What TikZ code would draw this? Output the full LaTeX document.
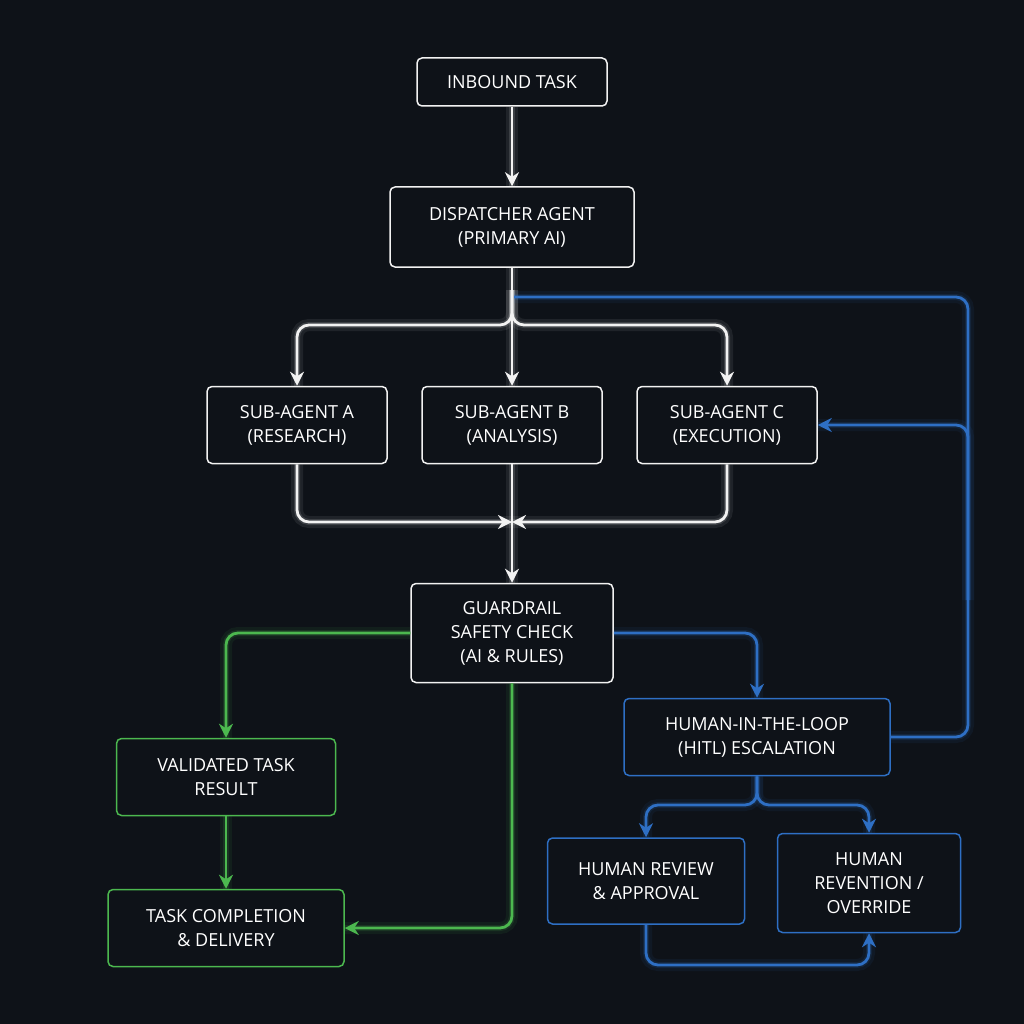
\documentclass[tikz,border=0pt]{standalone}
\usepackage{fontspec}
\setmainfont{Open Sans}
\usetikzlibrary{arrows.meta}
\definecolor{bg}{HTML}{0E1218}
\definecolor{wl}{HTML}{F2F2F2}
\definecolor{gl}{HTML}{4CB84F}
\definecolor{bl}{HTML}{2E6FC4}
\begin{document}
\begin{tikzpicture}[x=1pt,y=-1pt,
  box/.style={draw=#1, line width=1.5pt, rounded corners=5pt, fill=bg, text=white, align=center, font=\fontsize{18}{24}\selectfont, inner sep=0pt},
  glow/.style={preaction={draw=#1, line width=12pt, draw opacity=0.08, arrows=-},
     preaction={draw=#1, line width=6pt, draw opacity=0.14, arrows=-}},
  ln/.style={draw=#1, line width=2.8pt, rounded corners=12pt, -{Stealth[length=14pt,width=14pt]}, glow=#1},
  pl/.style={draw=#1, line width=2.8pt, rounded corners=12pt, glow=#1}]
\fill[bg] (0,0) rectangle (1024,1024);
\useasboundingbox (0,0) rectangle (1024,1024);
% nodes
\node[box=wl, minimum width=190pt, minimum height=48pt] (in) at (512,82) {INBOUND TASK};
\node[box=wl, minimum width=244pt, minimum height=80pt] (disp) at (512,227) {DISPATCHER AGENT\\(PRIMARY AI)};
\node[box=wl, minimum width=180pt, minimum height=77pt] (a) at (297,425) {SUB-AGENT A\\(RESEARCH)};
\node[box=wl, minimum width=180pt, minimum height=77pt] (b) at (512,425) {SUB-AGENT B\\(ANALYSIS)};
\node[box=wl, minimum width=180pt, minimum height=77pt] (c) at (727,425) {SUB-AGENT C\\(EXECUTION)};
\node[box=wl, minimum width=202pt, minimum height=99pt] (g) at (512,633) {GUARDRAIL\\SAFETY CHECK\\(AI \& RULES)};
\node[box=bl, minimum width=266pt, minimum height=77pt] (h) at (757,737) {HUMAN-IN-THE-LOOP\\(HITL) ESCALATION};
\node[box=gl, minimum width=219pt, minimum height=77pt] (v) at (226,777) {VALIDATED TASK\\RESULT};
\node[box=gl, minimum width=236pt, minimum height=77pt] (t) at (226,928) {TASK COMPLETION\\\& DELIVERY};
\node[box=bl, minimum width=197pt, minimum height=86pt] (r) at (646,881) {HUMAN REVIEW\\\& APPROVAL};
\node[box=bl, minimum width=183pt, minimum height=99pt] (o) at (869,883) {HUMAN\\REVENTION /\\OVERRIDE};
\coordinate (split) at (512,325);
\coordinate (merge) at (512,522);
\coordinate (hs) at (757,805);
% white
\draw[ln=wl] (in) -- (disp);
\draw[ln=wl] (disp.south) -- (b);
\draw[ln=wl] (512,290) |- (split) -| (a.north);
\draw[ln=wl] (512,290) |- (split) -| (c.north);
\draw[ln=wl] (a.south) |- (merge);
\draw[ln=wl] (c.south) |- (merge);
\draw[ln=wl] (b) -- (g);
% green
\draw[ln=gl] (g.west) -| (v.north);
\draw[ln=gl] (v) -- (t);
\draw[ln=gl] (g.south) |- (t.east);
% blue
\draw[ln=bl] (g.east) -| (h.north);
\draw[pl=bl] (h.east) -| (968,297) -- (514,297);
\draw[ln=bl] (968,600) |- (c.east);
\draw[ln=bl] (h.south) |- (hs) -| (r.north);
\draw[ln=bl] (h.south) |- (hs) -| (o.north);
\draw[ln=bl] (r.south) |- (869,965) -- (o.south);
\end{tikzpicture}
\end{document}
